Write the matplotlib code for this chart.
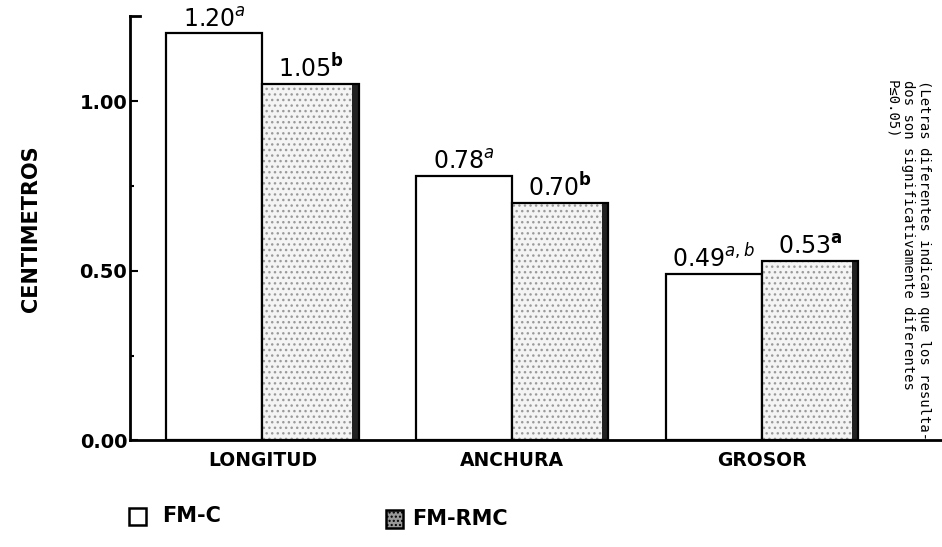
import numpy as np
import matplotlib
matplotlib.use("Agg")
import matplotlib.pyplot as plt
from matplotlib.patches import Rectangle

# ── Data ─────────────────────────────────────────────────────────────────────
categories = ["LONGITUD", "ANCHURA", "GROSOR"]
fm_c = [1.20, 0.78, 0.49]
fm_rmc = [1.05, 0.70, 0.53]
letters_c = ["a", "a", "a,b"]
letters_rmc = ["b", "b", "a"]
yticks = [0.0, 0.5, 1.0]
ytick_labels = ["0.00", "0.50", "1.00"]

note = ("(Letras diferentes indican que los resulta-\n"
        "dos son significativamente diferentes\n"
        "P≤0.05)")

plt.rcParams['font.family'] = ['DejaVu Sans']

fig = plt.figure(figsize=(9.42, 5.47), dpi=100)
ax = fig.add_axes([0.138, 0.195, 0.862, 0.775])

x = np.arange(len(categories))
w = 0.385
ax.bar(x - w / 2, fm_c, w, color="white", edgecolor="black", lw=1.6, zorder=2)
# stippled bars: hatch drawn in grey, outline drawn on top in black
ax.bar(x + w / 2, fm_rmc, w, color="#f4f4f4", edgecolor="#9a9a9a", lw=0,
       hatch="...", zorder=2)
ax.bar(x + w / 2, fm_rmc, w, color="none", edgecolor="black", lw=1.6, zorder=4)
# dark shading on the right side of the stippled bars
ax.bar(x + w - 0.013, fm_rmc, 0.026, color="#222222", lw=0, zorder=3)

for i in range(len(categories)):
    ax.text(x[i] - w / 2, fm_c[i] + 0.005, f"{fm_c[i]:.2f}$^{{{letters_c[i]}}}$",
            ha="center", va="bottom", fontsize=17)
    ax.text(x[i] + w / 2, fm_rmc[i] + 0.005,
            f"{fm_rmc[i]:.2f}$^{{\\mathbf{{{letters_rmc[i]}}}}}$",
            ha="center", va="bottom", fontsize=17)

ax.set_xlim(-0.53, 2.72)
ax.set_ylim(0, 1.25)
ax.set_xticks(x)
ax.set_xticklabels(categories, fontsize=13.5, fontweight="bold")
ax.set_yticks(yticks)
ax.set_yticklabels(ytick_labels, fontsize=14, fontweight="bold")
ax.set_yticks([0.25, 0.75], minor=True)
ax.tick_params(axis="y", which="major", direction="in", length=6, width=1.5, pad=2)
ax.tick_params(axis="y", which="minor", direction="in", length=3, width=1.5)
ax.tick_params(axis="x", length=0, pad=8)
for s in ("top", "right"):
    ax.spines[s].set_visible(False)
ax.spines["left"].set_linewidth(2)
ax.spines["bottom"].set_linewidth(2)
ax.plot([0, 0.012], [1.25, 1.25], color="black", lw=2, transform=ax.get_yaxis_transform(),
        clip_on=False)

ax.set_ylabel("CENTIMETROS", fontsize=15, fontweight="bold", labelpad=28)

# note on the right, rotated
fig.text(0.964, 0.854, note, rotation=270, ha="center", va="top",
         multialignment="left", family="DejaVu Sans Mono", fontsize=10,
         linespacing=1.15)

# legend drawn by hand at the bottom
fig.patches.append(Rectangle((0.137, 0.04), 0.018, 0.032, transform=fig.transFigure,
                             facecolor="white", edgecolor="black", lw=1.8))
fig.text(0.172, 0.056, "FM-C", fontsize=15, fontweight="bold", va="center")
fig.patches.append(Rectangle((0.41, 0.035), 0.018, 0.032, transform=fig.transFigure,
                             facecolor="#999999", edgecolor="black", lw=1.8, hatch="...."))
fig.text(0.437, 0.052, "FM-RMC", fontsize=15, fontweight="bold", va="center")

fig.savefig("out.png", dpi=100)
